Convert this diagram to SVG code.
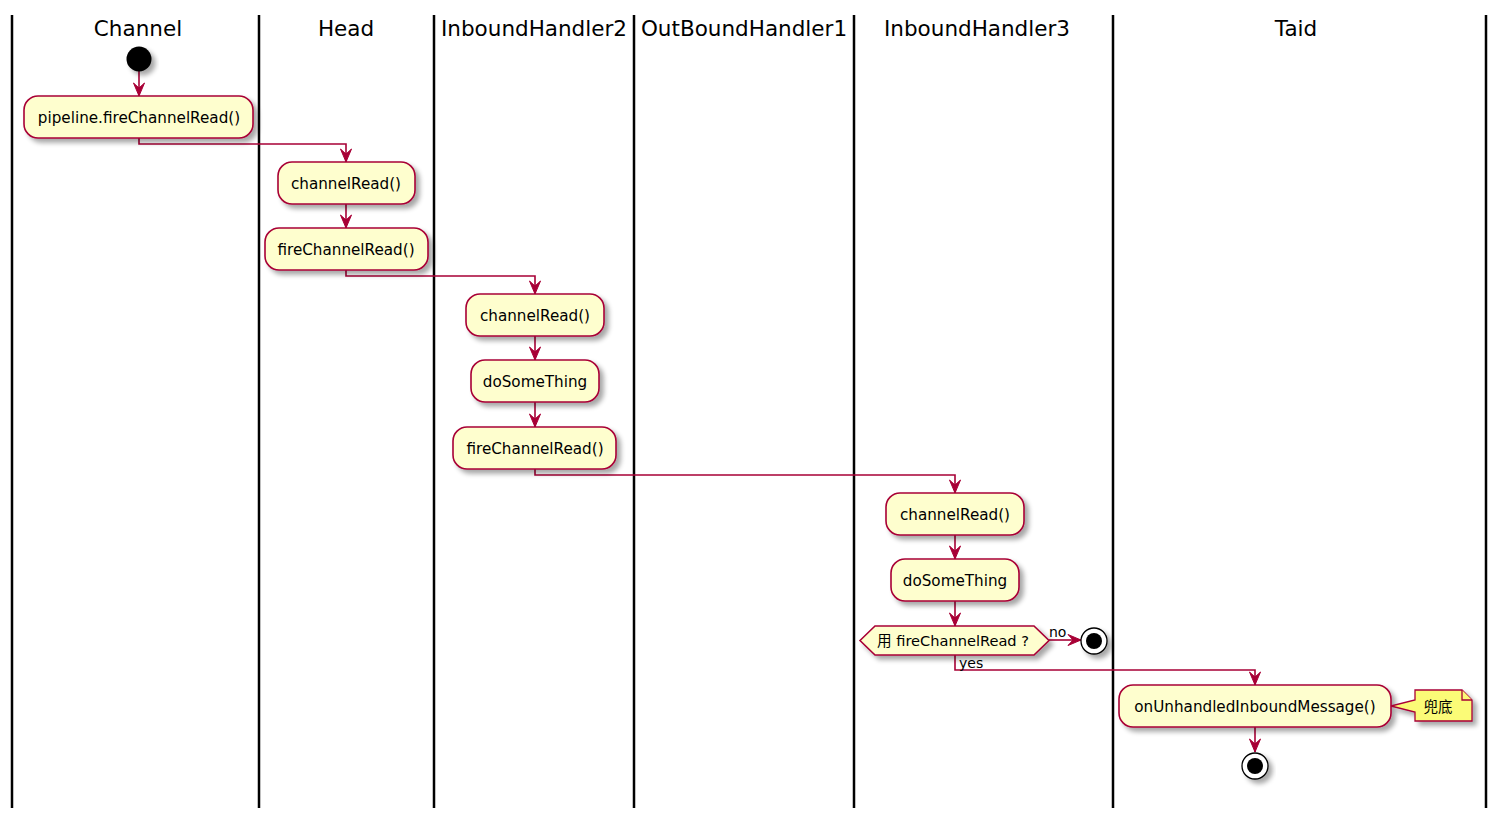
<svg xmlns="http://www.w3.org/2000/svg" width="1500" height="823" viewBox="0 0 1500 823">
<defs>
<filter id="sh" x="-20%" y="-20%" width="150%" height="160%">
<feGaussianBlur in="SourceAlpha" stdDeviation="2.5"/>
<feOffset dx="4" dy="4" result="b"/>
<feComponentTransfer><feFuncA type="linear" slope="0.35"/></feComponentTransfer>
<feMerge><feMergeNode/><feMergeNode in="SourceGraphic"/></feMerge>
</filter>
<marker id="ah" markerUnits="userSpaceOnUse" markerWidth="16" markerHeight="14" viewBox="-14 -7 15 14" refX="0" refY="0" orient="auto">
<path d="M0,0 L-13,-5.5 L-8,0 L-13,5.5 Z" fill="#A80036" stroke="#A80036" stroke-width="1"/>
</marker>
</defs>
<style>
.lane{stroke:#000;stroke-width:2.5}
.title{font-family:"DejaVu Sans",sans-serif;font-size:21.5px;fill:#000;text-anchor:middle}
.box{fill:#FEFECE;stroke:#A80036;stroke-width:1.6}
.t{font-family:"DejaVu Sans","Noto Sans CJK SC",sans-serif;font-size:15.2px;fill:#000;text-anchor:middle}
.lbl{font-family:"DejaVu Sans",sans-serif;font-size:14px;fill:#000}
.c{fill:none;stroke:#A80036;stroke-width:1.6}
.note{fill:#FBFB77;stroke:#A80036;stroke-width:1.3}
</style>
<rect width="1500" height="823" fill="#fff"/>
<g id="lanes">
<line class="lane" x1="12" y1="15" x2="12" y2="808"/>
<line class="lane" x1="259" y1="15" x2="259" y2="808"/>
<line class="lane" x1="434" y1="15" x2="434" y2="808"/>
<line class="lane" x1="634" y1="15" x2="634" y2="808"/>
<line class="lane" x1="854" y1="15" x2="854" y2="808"/>
<line class="lane" x1="1113" y1="15" x2="1113" y2="808"/>
<line class="lane" x1="1486" y1="15" x2="1486" y2="808"/>
<text class="title" x="138" y="36">Channel</text>
<text class="title" x="346" y="36">Head</text>
<text class="title" x="534" y="36">InboundHandler2</text>
<text class="title" x="744" y="36">OutBoundHandler1</text>
<text class="title" x="977" y="36">InboundHandler3</text>
<text class="title" x="1296" y="36">Taid</text>
</g>
<g id="connectors">
<path class="c" d="M139,71 L139,96" marker-end="url(#ah)"/>
<path class="c" d="M139,138 L139,144 L346,144 L346,162" marker-end="url(#ah)"/>
<path class="c" d="M346,204 L346,228" marker-end="url(#ah)"/>
<path class="c" d="M346,270 L346,276 L535,276 L535,294" marker-end="url(#ah)"/>
<path class="c" d="M535,336 L535,360" marker-end="url(#ah)"/>
<path class="c" d="M535,402 L535,427" marker-end="url(#ah)"/>
<path class="c" d="M535,469 L535,475 L955,475 L955,493" marker-end="url(#ah)"/>
<path class="c" d="M955,535 L955,559" marker-end="url(#ah)"/>
<path class="c" d="M955,601 L955,626" marker-end="url(#ah)"/>
<path class="c" d="M1049,640 L1081,640" marker-end="url(#ah)"/>
<path class="c" d="M955,655 L955,670 L1255,670 L1255,685" marker-end="url(#ah)"/>
<path class="c" d="M1255,727 L1255,752" marker-end="url(#ah)"/>
<text class="lbl" x="1049" y="637">no</text>
<text class="lbl" x="959" y="668">yes</text>
</g>
<g id="start"><circle cx="139" cy="59" r="12.5" fill="#000" filter="url(#sh)"/></g>
<g id="n1"><rect class="box" x="24" y="96" width="229" height="42" rx="14" filter="url(#sh)"/><text class="t" x="139" y="122.5">pipeline.fireChannelRead()</text></g>
<g id="n2"><rect class="box" x="278" y="162" width="137" height="42" rx="14" filter="url(#sh)"/><text class="t" x="346" y="188.5">channelRead()</text></g>
<g id="n3"><rect class="box" x="265" y="228" width="163" height="42" rx="14" filter="url(#sh)"/><text class="t" x="346" y="254.5">fireChannelRead()</text></g>
<g id="n4"><rect class="box" x="466" y="294" width="138" height="42" rx="14" filter="url(#sh)"/><text class="t" x="535" y="320.5">channelRead()</text></g>
<g id="n5"><rect class="box" x="471" y="360" width="128" height="42" rx="14" filter="url(#sh)"/><text class="t" x="535" y="386.5">doSomeThing</text></g>
<g id="n6"><rect class="box" x="453" y="427" width="163" height="42" rx="14" filter="url(#sh)"/><text class="t" x="535" y="453.5">fireChannelRead()</text></g>
<g id="n7"><rect class="box" x="886" y="493" width="138" height="42" rx="14" filter="url(#sh)"/><text class="t" x="955" y="519.5">channelRead()</text></g>
<g id="n8"><rect class="box" x="891" y="559" width="128" height="42" rx="14" filter="url(#sh)"/><text class="t" x="955" y="585.5">doSomeThing</text></g>
<g id="d1"><polygon class="box" points="860,640.5 875,626 1034,626 1049,640.5 1034,655 875,655" filter="url(#sh)"/><text class="t" x="953" y="646" style="font-size:14.6px">用 fireChannelRead ?</text></g>
<g id="end1"><circle cx="1094" cy="641" r="13" fill="#fff" stroke="#000" stroke-width="1.3" filter="url(#sh)"/><circle cx="1094" cy="641" r="8" fill="#000"/></g>
<g id="n9"><rect class="box" x="1119" y="685" width="272" height="42" rx="14" filter="url(#sh)"/><text class="t" x="1255" y="711.5">onUnhandledInboundMessage()</text></g>
<g id="note1"><path class="note" d="M1415,690 L1462,690 L1472,700 L1472,721 L1415,721 L1415,712 L1391,706 L1415,700 Z" filter="url(#sh)"/><path class="note" d="M1462,690 L1462,700 L1472,700" fill="none"/><text class="t" x="1438" y="711.5" style="font-family:'Noto Sans CJK SC',sans-serif;font-size:14.5px">兜底</text></g>
<g id="end2"><circle cx="1255" cy="766" r="13" fill="#fff" stroke="#000" stroke-width="1.3" filter="url(#sh)"/><circle cx="1255" cy="766" r="8" fill="#000"/></g>
</svg>
